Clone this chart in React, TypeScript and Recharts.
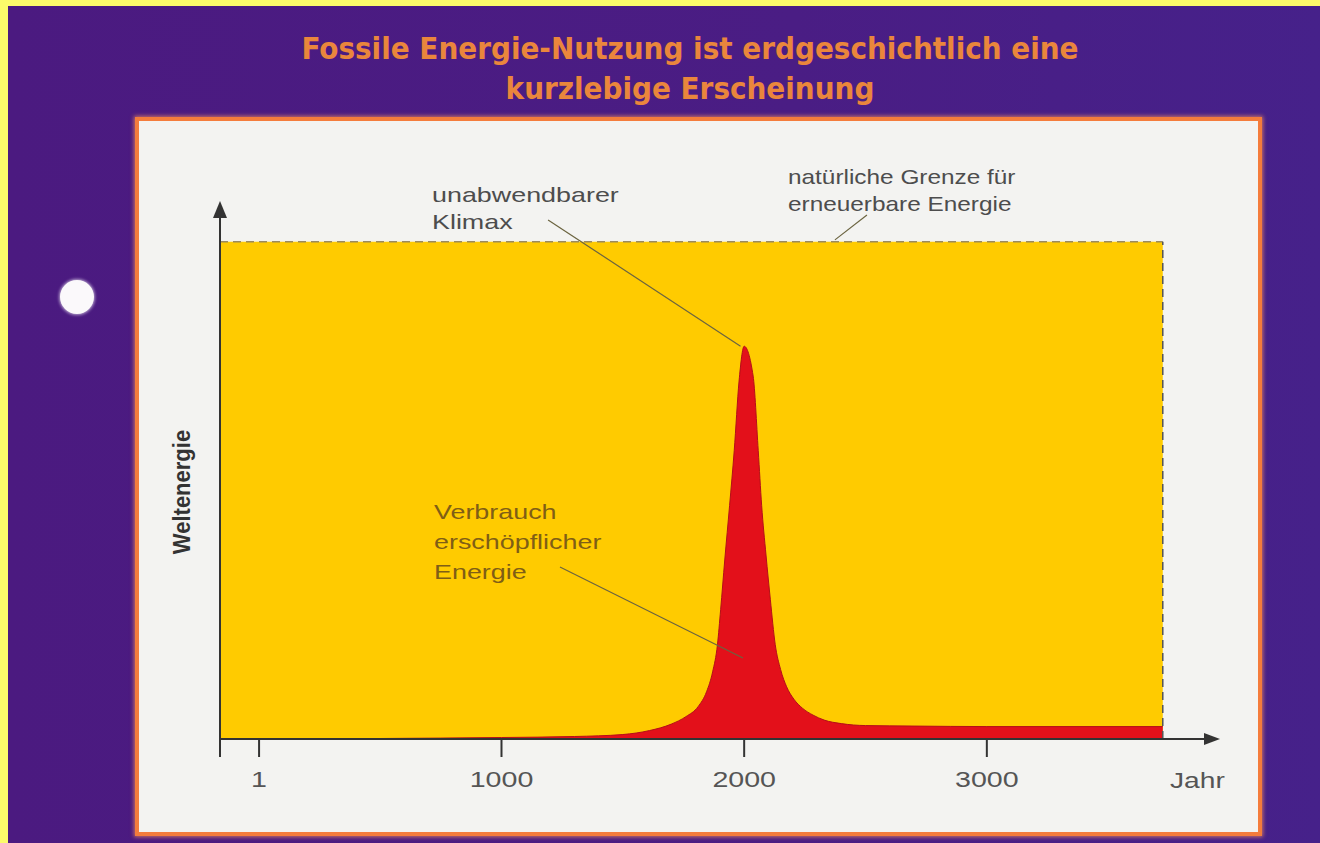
import React from "react";
import {
  ComposedChart,
  Area,
  XAxis,
  YAxis,
  ReferenceLine,
  ReferenceDot,
} from "recharts";

// years on the x axis (numeric scale)
const years = [
  -160, 1, 500, 1000, 1300, 1500, 1610, 1700, 1760, 1810, 1845, 1870, 1890, 1903,
  1920, 1940, 1959, 1979, 2000, 2037, 2058, 2072, 2090, 2108, 2128, 2150, 2175,
  2205, 2240, 2284, 2330, 2400, 2500, 2700, 3000, 3725,
];
// consumption of exhaustible energy (share of the natural limit, limit = 100)
const verbrauch = [
  0, 0, 0.1, 0.3, 0.5, 0.9, 1.7, 3.0, 4.5, 6.5, 9.5, 13.5, 19, 26,
  36, 47, 58, 72, 79, 73, 58, 47, 37, 28, 19, 14, 10.5,
  8.0, 6.2, 4.8, 3.8, 3.1, 2.7, 2.6, 2.5, 2.5,
];
// natural limit for renewable energy
const grenze = years.map(() => 100);

const xTicks = [-160, 1, 1000, 2000, 3000];
const xTickLabels: Record<number, string> = {
  [-160]: "",
  1: "1",
  1000: "1000",
  2000: "2000",
  3000: "3000",
};

const chartData = years.map((year, i) => ({
  year,
  grenze: grenze[i],
  verbrauch: verbrauch[i],
}));

const X_MIN = -160;
const X_MAX = 3899;
const Y_MAX = 105.2;
const LIMIT_END = 3725;

const textFont = "'Liberation Sans', Arial, sans-serif";

const YearTick = (props: any) => {
  const { x, y, payload } = props;
  const label = xTickLabels[payload.value] ?? "";
  return (
    <g transform={`translate(${x},${y})`}>
      <text
        x={0}
        y={0}
        dy={28}
        textAnchor="middle"
        fill="#555"
        fontSize={22}
        fontFamily={textFont}
        transform="scale(1.3,1)"
      >
        {label}
      </text>
    </g>
  );
};

const ArrowUp = (props: any) => {
  const { cx, cy } = props;
  return (
    <polygon
      points={`${cx},${cy - 15} ${cx - 7},${cy + 2} ${cx + 7},${cy + 2}`}
      fill="#333"
    />
  );
};

const ArrowRight = (props: any) => {
  const { cx, cy } = props;
  return (
    <polygon
      points={`${cx + 15},${cy} ${cx - 1},${cy - 6} ${cx - 1},${cy + 6}`}
      fill="#333"
    />
  );
};

const annot: React.CSSProperties = {
  position: "absolute",
  fontFamily: textFont,
  fontSize: 21,
  lineHeight: "27px",
  color: "#4d4d4d",
  transform: "scaleX(1.28)",
  transformOrigin: "left top",
  whiteSpace: "nowrap",
};

export default function App() {
  return (
    <div
      style={{
        position: "fixed",
        left: 0,
        top: 0,
        width: 1320,
        height: 843,
        overflow: "hidden",
        background: "#fcfb6a",
      }}
    >
      {/* purple card */}
      <div
        style={{
          position: "absolute",
          left: 8,
          top: 6,
          right: 0,
          bottom: 0,
          background: "linear-gradient(90deg, #4b1a80 0%, #4a1d84 60%, #46218a 100%)",
        }}
      />
      {/* punch hole */}
      <div
        style={{
          position: "absolute",
          left: 60,
          top: 280,
          width: 34,
          height: 34,
          borderRadius: "50%",
          background: "#fbf9fb",
          boxShadow: "0 0 3px 1px rgba(255,255,255,0.6)",
        }}
      />
      {/* title */}
      <div
        style={{
          position: "absolute",
          left: 190,
          top: 28,
          width: 1000,
          textAlign: "center",
          fontFamily: "'Liberation Sans Narrow', 'DejaVu Sans Condensed', 'Liberation Sans', sans-serif",
          fontStretch: "condensed",
          fontWeight: 700,
          fontSize: 31,
          lineHeight: "40px",
          color: "#ea863c",
        }}
      >
        Fossile Energie-Nutzung ist erdgeschichtlich eine
        <br />
        kurzlebige Erscheinung
      </div>
      {/* white panel */}
      <div
        style={{
          position: "absolute",
          left: 135,
          top: 117,
          width: 1127,
          height: 719,
          boxSizing: "border-box",
          border: "4px solid #f47c3c",
          background: "#f3f3f1",
          boxShadow: "0 0 4px 1px rgba(255,150,90,0.7)",
        }}
      />
      <div style={{ position: "absolute", left: 0, top: 0 }}>
        <ComposedChart
          width={1320}
          height={843}
          data={chartData}
          margin={{ top: 216, right: 115, bottom: 64, left: 160 }}
        >
          <XAxis
            dataKey="year"
            type="number"
            domain={[X_MIN, X_MAX]}
            ticks={xTicks}
            interval={0}
            height={40}
            tickSize={18}
            tickMargin={2}
            tick={<YearTick />}
            axisLine={{ stroke: "#333", strokeWidth: 2 }}
            tickLine={{ stroke: "#333", strokeWidth: 2 }}
            allowDataOverflow
          />
          <YAxis
            type="number"
            domain={[0, Y_MAX]}
            width={60}
            tick={false}
            tickLine={false}
            axisLine={{ stroke: "#333", strokeWidth: 2 }}
            allowDataOverflow
          />
          <Area
            type="linear"
            dataKey="grenze"
            fill="#ffcb00"
            fillOpacity={1}
            stroke="#9a8a60"
            strokeWidth={1.5}
            strokeDasharray="8 5"
            isAnimationActive={false}
            dot={false}
            activeDot={false}
          />
          <Area
            type="monotone"
            dataKey="verbrauch"
            fill="#e3101a"
            fillOpacity={1}
            stroke="#b40f18"
            strokeWidth={1}
            isAnimationActive={false}
            dot={false}
            activeDot={false}
          />
          {/* right end of the renewable limit */}
          <ReferenceLine
            segment={[
              { x: LIMIT_END, y: 0 },
              { x: LIMIT_END, y: 100 },
            ]}
            stroke="#555"
            strokeWidth={1.5}
            strokeDasharray="8 5"
            ifOverflow="visible"
          />
          {/* leader lines */}
          <ReferenceLine
            segment={[
              { x: 1192, y: 104.4 },
              { x: 1985, y: 79 },
            ]}
            stroke="#6b6440"
            strokeWidth={1.2}
            ifOverflow="visible"
          />
          <ReferenceLine
            segment={[
              { x: 1241, y: 34.6 },
              { x: 1995, y: 16.3 },
            ]}
            stroke="#6b6440"
            strokeWidth={1.2}
            ifOverflow="visible"
          />
          <ReferenceLine
            segment={[
              { x: 2506, y: 105.4 },
              { x: 2374, y: 100.4 },
            ]}
            stroke="#6b6440"
            strokeWidth={1.2}
            ifOverflow="visible"
          />
          {/* axis arrows */}
          <ReferenceDot x={X_MIN} y={Y_MAX} r={0} shape={<ArrowUp />} ifOverflow="visible" />
          <ReferenceDot x={X_MAX} y={0} r={0} shape={<ArrowRight />} ifOverflow="visible" />
        </ComposedChart>
      </div>
      {/* annotations */}
      <div style={{ ...annot, left: 432, top: 181 }}>
        unabwendbarer
        <br />
        Klimax
      </div>
      <div style={{ ...annot, left: 788, top: 163, transform: "scaleX(1.16)" }}>
        natürliche Grenze für
        <br />
        erneuerbare Energie
      </div>
      <div style={{ ...annot, left: 434, top: 497, color: "#7f5e16", lineHeight: "30px" }}>
        Verbrauch
        <br />
        erschöpflicher
        <br />
        Energie
      </div>
      <div style={{ ...annot, left: 1170, top: 767, color: "#555", fontSize: 22 }}>Jahr</div>
      <div
        style={{
          position: "absolute",
          left: 182,
          top: 492,
          fontFamily: textFont,
          fontWeight: 700,
          fontSize: 22,
          color: "#333",
          whiteSpace: "nowrap",
          transform: "translate(-50%,-50%) rotate(-90deg) scaleY(1.1)",
        }}
      >
        Weltenergie
      </div>
    </div>
  );
}
